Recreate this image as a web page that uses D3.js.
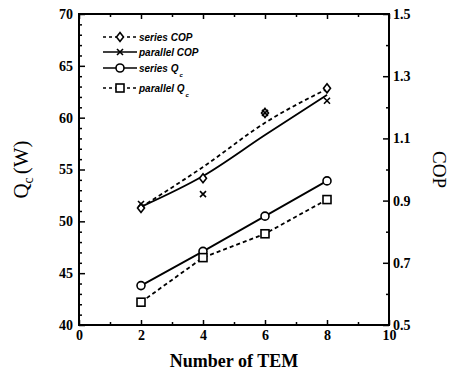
<!DOCTYPE html>
<html>
<head>
<meta charset="utf-8">
<script src="https://cdn.jsdelivr.net/npm/d3@7"></script>
<style>
  body { margin: 0; background: #fff; }
  svg { display: block; }
</style>
</head>
<body>
<svg id="chart" width="459" height="378"></svg>
<script>
// number of TEM
const tem = [2, 4, 6, 8]

// cooling capacity Qc (W), left axis
const seriesQc = [43.8, 47.1, 50.5, 53.9]
const parallelQc = [42.2, 46.5, 48.8, 52.1]

// COP measured points, right axis
const seriesCop = [0.876, 0.972, 1.182, 1.261]
const parallelCop = [0.889, 0.921, 1.182, 1.221]

// fitted COP curves as drawn in the figure
const seriesCopFit = [0.879, 1.008, 1.150, 1.259]
const parallelCopFit = [0.880, 0.979, 1.111, 1.240]

const xTicks = [0, 2, 4, 6, 8, 10]
const qcTicks = [40, 45, 50, 55, 60, 65, 70]
const copTicks = [0.5, 0.7, 0.9, 1.1, 1.3, 1.5]

const serif = "'Liberation Serif', 'Times New Roman', serif"
const sans = "'Liberation Sans', Arial, sans-serif"

const svg = d3.select("#chart")
const margin = {top: 14, right: 70, bottom: 53, left: 79}
const width = 459 - margin.left - margin.right
const height = 378 - margin.top - margin.bottom

const g = svg.append("g").attr("transform", "translate(" + margin.left + "," + margin.top + ")")

const x = d3.scaleLinear().domain([0, 10]).range([0, width])
const yQ = d3.scaleLinear().domain([40, 70]).range([height, 0])
const yC = d3.scaleLinear().domain([0.5, 1.5]).range([height, 0])

function styleLabels(sel) {
    sel.attr("font-family", null).attr("font-size", null)
    sel.selectAll("text")
        .style("font-family", serif).style("font-weight", "bold").style("font-size", "14px")
        .attr("fill", "#000")
}

// minor ticks (inside)
function minor(axisFn, scale, vals, t) {
    g.append("g")
        .attr("transform", t)
        .call(axisFn(scale).tickValues(vals).tickSize(3).tickFormat(""))
}

const xMinor = d3.range(1, 10, 2)
const qMinor = d3.range(41, 70).filter(d => d % 5 !== 0)
const cMinor = [0.6, 0.8, 1.0, 1.2, 1.4]

minor(d3.axisTop, x, xMinor, "translate(0," + height + ")")
minor(d3.axisBottom, x, xMinor, "translate(0,0)")
minor(d3.axisRight, yQ, qMinor, "translate(0,0)")
minor(d3.axisLeft, yC, cMinor, "translate(" + width + ",0)")

// major ticks
g.append("g")
    .attr("transform", "translate(0," + height + ")")
    .call(d3.axisTop(x).tickValues(xTicks).tickSize(5).tickFormat(""))
g.append("g")
    .call(d3.axisBottom(x).tickValues(xTicks).tickSize(5).tickFormat(""))
g.append("g")
    .call(d3.axisRight(yQ).tickValues(qcTicks).tickSize(6).tickFormat(""))
g.append("g")
    .attr("transform", "translate(" + width + ",0)")
    .call(d3.axisLeft(yC).tickValues(copTicks).tickSize(6).tickFormat(""))

// tick labels
const xLab = g.append("g")
    .attr("transform", "translate(0," + height + ")")
    .call(d3.axisBottom(x).tickValues(xTicks).tickSize(0).tickPadding(5))
styleLabels(xLab)

const yLeftLab = g.append("g")
    .call(d3.axisLeft(yQ).tickValues(qcTicks).tickSize(0).tickPadding(6))
styleLabels(yLeftLab)

const yRightLab = g.append("g")
    .attr("transform", "translate(" + width + ",0)")
    .call(d3.axisRight(yC).tickValues(copTicks).tickSize(0).tickPadding(4).tickFormat(d3.format(".1f")))
styleLabels(yRightLab)

g.selectAll(".domain").remove()
g.selectAll(".tick line").attr("stroke", "#000").attr("stroke-width", 1.5)

// frame
g.append("rect")
    .attr("width", width).attr("height", height)
    .attr("fill", "none").attr("stroke", "#000").attr("stroke-width", 2)

// lines
const lineQ = d3.line().x((d, i) => x(tem[i])).y(d => yQ(d))
const lineC = d3.line().x((d, i) => x(tem[i])).y(d => yC(d)).curve(d3.curveMonotoneX)

g.append("path").attr("d", lineQ(seriesQc)).attr("fill", "none")
    .attr("stroke", "#000").attr("stroke-width", 1.8)
g.append("path").attr("d", lineQ(parallelQc)).attr("fill", "none")
    .attr("stroke", "#000").attr("stroke-width", 1.8).attr("stroke-dasharray", "4,3")
g.append("path").attr("d", lineC(seriesCopFit)).attr("fill", "none")
    .attr("stroke", "#000").attr("stroke-width", 1.8).attr("stroke-dasharray", "4,3")
g.append("path").attr("d", lineC(parallelCopFit)).attr("fill", "none")
    .attr("stroke", "#000").attr("stroke-width", 1.8)

// markers
function drawMarker(sel, type) {
    if (type === "circle") {
        sel.append("circle").attr("r", 4).attr("fill", "#fff").attr("stroke", "#000").attr("stroke-width", 1.6)
    } else if (type === "square") {
        sel.append("rect").attr("x", -4).attr("y", -4).attr("width", 8).attr("height", 8)
            .attr("fill", "#fff").attr("stroke", "#000").attr("stroke-width", 1.6)
    } else if (type === "diamond") {
        sel.append("path").attr("d", "M0,-4.5L3.5,0L0,4.5L-3.5,0Z")
            .attr("fill", "#fff").attr("stroke", "#000").attr("stroke-width", 1.6)
    } else if (type === "cross") {
        sel.append("path").attr("d", "M-3,-3L3,3M-3,3L3,-3")
            .attr("stroke", "#000").attr("stroke-width", 1.6)
    }
}

function markers(vals, scale, type) {
    vals.forEach((v, i) => {
        const m = g.append("g").attr("transform", "translate(" + x(tem[i]) + "," + scale(v) + ")")
        drawMarker(m, type)
    })
}

markers(seriesQc, yQ, "circle")
markers(parallelQc, yQ, "square")
markers(seriesCop, yC, "diamond")
markers(parallelCop, yC, "cross")

// legend
const legendItems = [
    {label: "series COP", type: "diamond", dash: "3,3", y: 37},
    {label: "parallel COP", type: "cross", dash: null, y: 52},
    {label: "series Q", sub: "c", type: "circle", dash: null, y: 68},
    {label: "parallel Q", sub: "c", type: "square", dash: "3,3", y: 88}
]
const leg = svg.append("g")
legendItems.forEach(it => {
    const row = leg.append("g").attr("transform", "translate(0," + it.y + ")")
    row.append("line").attr("x1", 103).attr("x2", 137)
        .attr("stroke", "#000").attr("stroke-width", 1.5)
        .attr("stroke-dasharray", it.dash)
    drawMarker(row.append("g").attr("transform", "translate(120,0)"), it.type)
    const t = row.append("text").attr("x", 139).attr("y", 3.5)
        .style("font-family", sans).style("font-weight", "bold").style("font-style", "italic").style("font-size", "10px")
        .text(it.label)
    if (it.sub) {
        t.append("tspan").attr("dx", 1).attr("dy", 5).style("font-size", "6px").text(it.sub)
    }
})

// axis titles
const qTitle = svg.append("text")
    .attr("transform", "translate(28," + (margin.top + height / 2) + ") rotate(-90)")
    .attr("text-anchor", "middle")
    .style("font-family", serif).style("font-size", "21px")
qTitle.append("tspan").text("Q")
qTitle.append("tspan").attr("dy", 5).style("font-size", "14px").text("c")
qTitle.append("tspan").attr("dy", -5).attr("dx", 3).text("(W)")

svg.append("text")
    .attr("transform", "translate(433," + (margin.top + height / 2) + ") rotate(90)")
    .attr("text-anchor", "middle")
    .style("font-family", serif).style("font-size", "19px")
    .text("COP")

svg.append("text")
    .attr("x", margin.left + width / 2).attr("y", 367)
    .attr("text-anchor", "middle")
    .style("font-family", serif).style("font-weight", "bold").style("font-size", "18px")
    .text("Number of TEM")
</script>
</body>
</html>
